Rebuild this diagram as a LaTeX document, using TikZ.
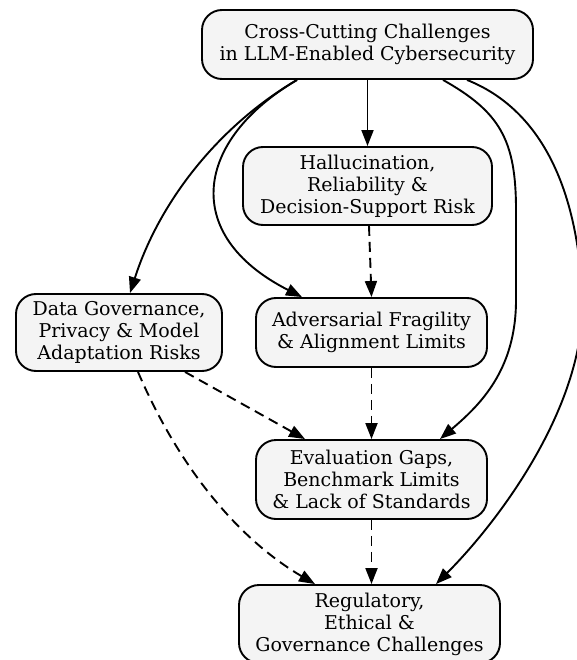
\documentclass[tikz,border=0pt]{standalone}
\usepackage{fontspec}
\setmainfont{DejaVu Serif}
\usetikzlibrary{arrows.meta}
\definecolor{boxfill}{HTML}{F4F4F4}
\begin{document}
\begin{tikzpicture}[x=1pt,y=-1pt,
  box/.style={draw, line width=1.9pt, fill=boxfill, rounded corners=20pt, align=center, inner sep=0pt, font=\fontsize{19}{22}\selectfont},
  edge/.style={line width=1.9pt, -{Triangle[length=16pt,width=12pt]}},
  dashededge/.style={edge, dash pattern=on 10pt off 6pt}]
\useasboundingbox (0,0) rectangle (577,660);
\clip (0,0) rectangle (577,660);

\node[box, minimum width=331pt, minimum height=69pt] (top) at (367.5,44.5) {Cross-Cutting Challenges\\in LLM-Enabled Cybersecurity};
\node[box, minimum width=249pt, minimum height=78pt] (hal) at (367.5,186) {Hallucination,\\Reliability \&\\Decision-Support Risk};
\node[box, minimum width=206pt, minimum height=77pt] (data) at (119,332.5) {Data Governance,\\Privacy \& Model\\Adaptation Risks};
\node[box, minimum width=231pt, minimum height=69pt] (adv) at (371.5,332.5) {Adversarial Fragility\\\& Alignment Limits};
\node[box, minimum width=231pt, minimum height=79pt] (eval) at (371.5,479.5) {Evaluation Gaps,\\Benchmark Limits\\\& Lack of Standards};
\node[box, minimum width=261pt, minimum height=78pt] (reg) at (369.5,624) {Regulatory,\\Ethical \&\\Governance Challenges};

% solid edges from top
\draw[edge] (top) -- (hal);
\draw[edge] ([xshift=-70.5pt]top.south) .. controls (220,125) and (160,200) .. ([xshift=11pt]data.north);
\draw[edge] ([xshift=-70.5pt]top.south) .. controls (195,140) and (180,235) .. ([xshift=-69.5pt]adv.north);
\draw[edge] ([xshift=75.5pt]top.south) .. controls (500,112) and (516,140) .. (516,210) -- (516,300) .. controls (516,370) and (480,405) .. ([xshift=68.5pt]eval.north);
\draw[edge] ([xshift=99.5pt]top.south) .. controls (530,105) and (575,170) .. (582,290) .. controls (590,400) and (500,520) .. ([xshift=66.5pt]reg.north);

% dashed edges
\draw[dashededge] ([xshift=1.5pt]hal.south) -- (adv.north);
\draw[dashededge] (adv) -- (eval);
\draw[dashededge] (eval) -- ([xshift=2pt]reg.north);
\draw[dashededge] ([xshift=66pt]data.south) -- ([xshift=-66.5pt]eval.north);
\draw[dashededge] ([xshift=19pt]data.south) .. controls (180,470) and (240,540) .. ([xshift=-54.5pt]reg.north);
\end{tikzpicture}
\end{document}
